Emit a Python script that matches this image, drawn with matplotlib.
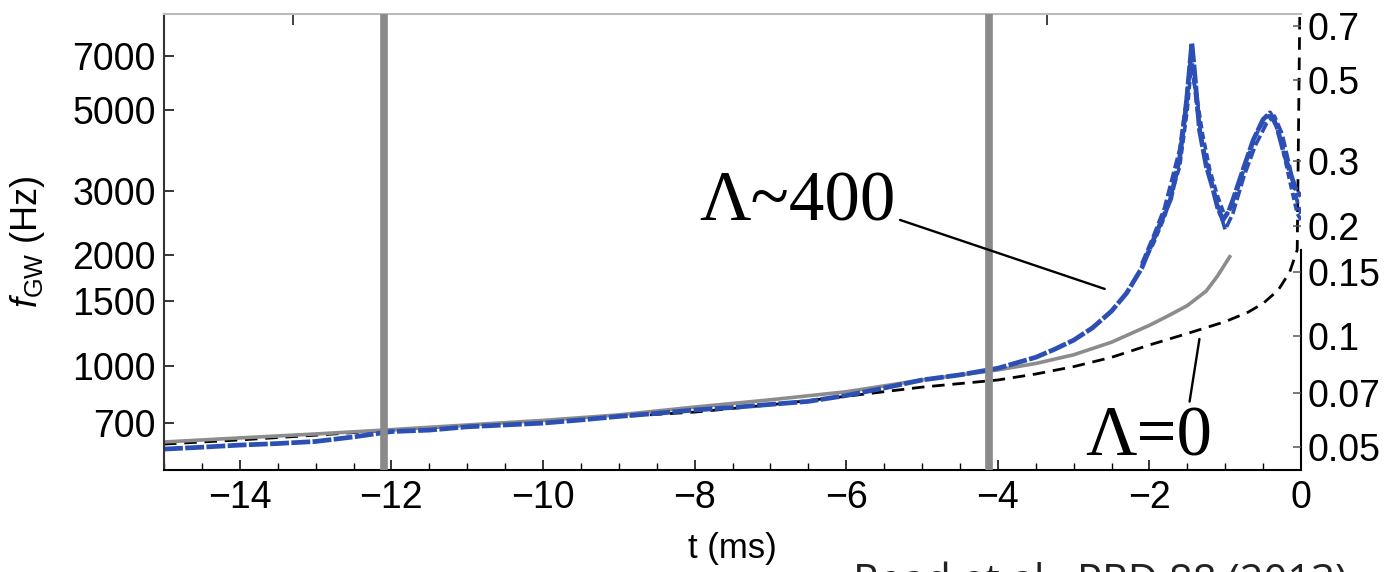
import matplotlib
matplotlib.use("Agg")
import matplotlib.pyplot as plt
from matplotlib.ticker import FixedLocator, NullLocator, NullFormatter, MultipleLocator

plt.rcParams['font.family'] = ['Liberation Sans', 'DejaVu Sans']
plt.rcParams['mathtext.fontset'] = 'custom'
plt.rcParams['mathtext.rm'] = 'Liberation Sans'
plt.rcParams['mathtext.it'] = 'Liberation Sans:italic'

# point-particle (Lambda = 0) inspiral, black dashed
t_pp = [-15, -14, -13, -12, -11, -10, -9, -8, -7, -6, -5, -4, -3.5, -3, -2.5, -2,
        -1.5, -1.0, -0.7, -0.5, -0.3, -0.15, -0.05, -0.01]
f_pp = [612, 628, 647, 668, 688, 705, 727, 748, 783, 826, 875, 915, 950, 995, 1055, 1140,
        1225, 1320, 1400, 1480, 1610, 1800, 2071, 12000]

# tidal inspiral model, gray solid
t_tid = [-15, -14, -13, -12, -11, -10, -9, -8, -7, -6, -5, -4, -3.5, -3, -2.5, -2,
         -1.75, -1.5, -1.25, -1.1, -0.94]
f_tid = [620, 636, 652, 670, 690, 710, 735, 772, 808, 850, 915, 975, 1015, 1072, 1160, 1290,
         1370, 1460, 1600, 1760, 1985]

# numerical relativity waveform, blue (highest resolution, full length)
t_nr = [-15, -14.5, -14, -13.5, -13, -12.5, -12, -11.5, -11, -10.5, -10, -9.5, -9, -8.5, -8,
        -7.5, -7, -6.5, -6, -5.5, -5, -4.5, -4, -3.5, -3.25, -3, -2.75, -2.5, -2.3, -2.1,
        -1.95, -1.8, -1.72, -1.6, -1.52, -1.47, -1.44, -1.40, -1.34, -1.25, -1.17, -1.1,
        -1.03, -0.95, -0.9, -0.75, -0.63, -0.5, -0.41, -0.32, -0.24, -0.15, -0.06, 0]
f_nr = [593, 600, 608, 614, 622, 640, 662, 668, 682, 690, 698, 712, 728, 742, 758,
        770, 785, 800, 830, 870, 915, 945, 985, 1055, 1110, 1175, 1270, 1410, 1580, 1850,
        2200, 2600, 2850, 3700, 5000, 6500, 7600, 6200, 4400, 3500, 3080, 2700,
        2500, 2650, 2830, 3500, 4130, 4700, 4900, 4500, 3900, 3400, 3000, 2900]

# lower resolutions, merger part only
t_nr_lo = [-2.1, -1.95, -1.8, -1.6, -1.5, -1.45, -1.38, -1.3, -1.2, -1.1, -1.0, -0.9, -0.75,
           -0.6, -0.45, -0.35, -0.25, -0.15, -0.05, 0]
f_nr_2 = [1900, 2250, 2700, 3900, 5600, 7200, 5200, 4000, 3300, 2750, 2350, 2600, 3300,
          4000, 4600, 4800, 4300, 3500, 2800, 2600]
f_nr_3 = [1880, 2150, 2550, 3500, 5000, 6500, 5500, 4300, 3400, 2900, 2550, 2750, 3450,
          4250, 4800, 4700, 4000, 3200, 2600, 2500]

t_marks = [-12.1, -4.12]
top_ticks = [-13.3, -3.35]
f_ticks = [700, 1000, 1500, 2000, 3000, 5000, 7000]
m_ticks = [0.05, 0.07, 0.1, 0.15, 0.2, 0.3, 0.5, 0.7]
m_labels = ['0.05', '0.07', '0.1', '0.15', '0.2', '0.3', '0.5', '0.7']
k_conv = 8.3e-5
f_lim = (520, 9110)

blue = '#2c4fb5'

fig = plt.figure(figsize=(13.87, 5.72), dpi=100)
ax = fig.add_axes([0.11824, 0.17832, 0.81976, 0.7972])

ax.plot(t_pp, f_pp, color='black', lw=2.0, dashes=(4.5, 2.8), zorder=2)
ax.plot(t_tid, f_tid, color='#8c8c8c', lw=2.6, zorder=2.2)
ax.plot(t_nr_lo, f_nr_2, color=blue, lw=2.6, dashes=(3, 1), zorder=2.3)
ax.plot(t_nr_lo, f_nr_3, color=blue, lw=2.6, dashes=(2, 1), zorder=2.3)
ax.plot(t_nr, f_nr, color=blue, lw=3.4, dashes=(4, 0.5), zorder=2.4)

for tm in t_marks:
    ax.axvline(tm, color='#8a8a8a', lw=5.5, zorder=2.6)

ax.set_yscale('log')
ax.set_xlim(-15, 0)
ax.set_ylim(*f_lim)

ax.xaxis.set_major_locator(MultipleLocator(2))
ax.xaxis.set_minor_locator(MultipleLocator(0.5))
ax.yaxis.set_major_locator(FixedLocator(f_ticks))
ax.yaxis.set_major_formatter(plt.FuncFormatter(lambda v, p: f"{int(v)}"))
ax.yaxis.set_minor_locator(NullLocator())
ax.yaxis.set_minor_formatter(NullFormatter())
ax.tick_params(axis='both', which='major', direction='in', labelsize=27, width=1.1, color='black')
ax.tick_params(axis='x', which='major', length=7.5, pad=7)
ax.tick_params(axis='x', which='minor', direction='in', length=5, width=1.0)
ax.tick_params(axis='y', which='major', length=7, pad=6, right=False)

ax.spines['bottom'].set_linewidth(1.5)
ax.spines['left'].set_linewidth(1.5)
ax.spines['left'].set_color('#333333')
ax.spines['top'].set_linewidth(1.5)
ax.spines['top'].set_color('#bbbbbb')
ax.spines['right'].set_linewidth(1.5)
ax.spines['right'].set_bounds(f_lim[0], f_pp[-2])

ax.set_xlabel('t (ms)', fontsize=25, labelpad=12)
ax.set_ylabel(r'$f_{\mathrm{GW}}$ (Hz)', fontsize=26, labelpad=18)

# right axis in dimensionless units
ax2 = ax.twinx()
ax2.set_yscale('log')
ax2.set_ylim(f_lim[0] * k_conv, f_lim[1] * k_conv)
ax2.yaxis.set_major_locator(FixedLocator(m_ticks))
ax2.yaxis.set_major_formatter(plt.FixedFormatter(m_labels))
ax2.yaxis.set_minor_locator(NullLocator())
ax2.yaxis.set_minor_formatter(NullFormatter())
ax2.tick_params(axis='y', direction='in', length=6, width=1.1, color='#555555', labelsize=27, pad=5)
for s in ax2.spines.values():
    s.set_visible(False)

# top axis: two marks
top = ax.secondary_xaxis('top')
top.xaxis.set_major_locator(FixedLocator(top_ticks))
top.xaxis.set_minor_locator(NullLocator())
top.xaxis.set_major_formatter(NullFormatter())
top.tick_params(direction='in', length=8, width=1.3, color='#333333')
top.spines['top'].set_visible(False)

# labels with leader lines
ax.text(-7.94, 2484, 'Λ~400', family='Liberation Serif', fontsize=51, ha='left', va='baseline', zorder=4)
ax.annotate('', xy=(-2.59, 1621), xytext=(-5.29, 2500),
            arrowprops=dict(arrowstyle='-', lw=1.7, color='black', shrinkA=0, shrinkB=0), zorder=4)
ax.text(-2.84, 571, 'Λ=0', family='Liberation Serif', fontsize=51, ha='left', va='baseline', zorder=4)
ax.annotate('', xy=(-1.34, 1184), xytext=(-1.47, 799),
            arrowprops=dict(arrowstyle='-', lw=1.7, color='black', shrinkA=0, shrinkB=0), zorder=4)

fig.text(853 / 1387, 1 - 562 / 572, 'Read et al., PRD 88 (2013)', family='Open Sans',
         fontsize=30, color='#222222', ha='left', va='top')

fig.savefig('out.png', dpi=100)
